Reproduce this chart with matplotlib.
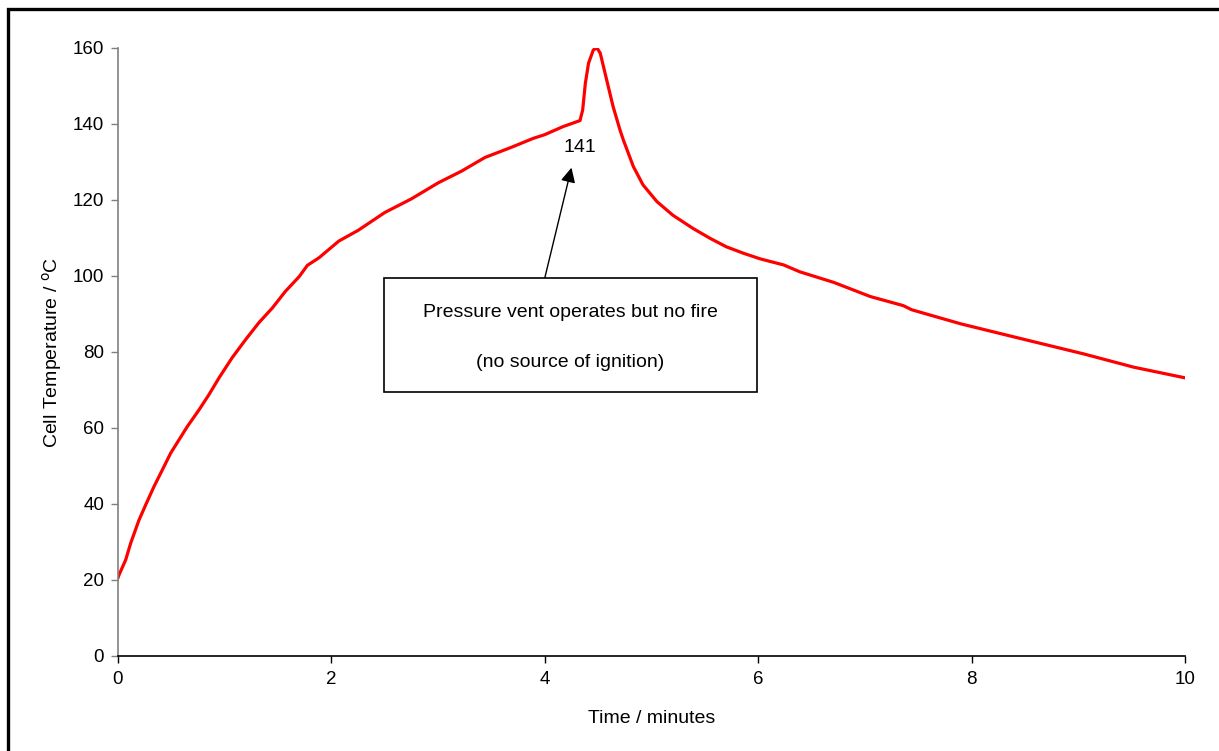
import matplotlib
matplotlib.use("Agg")
import matplotlib.pyplot as plt
from matplotlib.patches import Rectangle

plt.rcParams['font.family'] = ['Liberation Sans', 'DejaVu Sans']

# Data
time_min = [0.0, 0.009, 0.072, 0.119, 0.197, 0.26, 0.3375, 0.416, 0.494, 0.572,
            0.65, 0.76, 0.853, 0.947, 1.07, 1.197, 1.32, 1.447, 1.57, 1.697,
            1.775, 1.884, 2.07, 2.25, 2.5, 2.75, 3.0, 3.22, 3.44, 3.69, 3.89,
            4.0, 4.17, 4.33, 4.355, 4.38, 4.41, 4.455, 4.49, 4.52, 4.58, 4.64,
            4.705, 4.736, 4.83, 4.92, 5.05, 5.20, 5.39, 5.55, 5.70, 5.86, 6.02,
            6.24, 6.39, 6.71, 7.05, 7.36, 7.44, 7.9, 8.48, 9.05, 9.52, 10.0]
temp_c = [20.6, 21.3, 25.3, 29.7, 35.8, 39.8, 44.6, 49.0, 53.4, 56.9,
          60.4, 64.8, 68.8, 73.2, 78.5, 83.3, 87.7, 91.6, 96.0, 99.8,
          102.8, 104.8, 109.2, 112.0, 116.7, 120.3, 124.5, 127.6, 131.2, 133.9, 136.2,
          137.2, 139.3, 140.9, 143.7, 150.7, 156.0, 159.5, 160.0, 158.6, 151.6, 144.6,
          138.4, 135.8, 128.8, 124.0, 119.6, 116.0, 112.5, 109.9, 107.7, 106.0, 104.5,
          102.9, 101.1, 98.3, 94.6, 92.2, 91.1, 87.4, 83.4, 79.5, 76.0, 73.2]

x_ticks = [0, 2, 4, 6, 8, 10]
y_ticks = [0, 20, 40, 60, 80, 100, 120, 140, 160]

vent_temp = 141
vent_time = 4.33
box_lines = ["Pressure vent operates but no fire", "(no source of ignition)"]

FS = 14
fig = plt.figure(figsize=(12.19, 7.51), dpi=100)
ax = fig.add_axes([0.0968, 0.1265, 0.8753, 0.8096])

ax.plot(time_min, temp_c, color='#ff0000', lw=2.3, solid_joinstyle='round')

ax.set_xlim(0, 10)
ax.set_ylim(0, 160)
ax.set_xticks(x_ticks)
ax.set_yticks(y_ticks)
ax.tick_params(axis='both', labelsize=13.5, length=5, width=1, direction='out', pad=6)
ax.tick_params(axis='y', color='#808080', pad=5)
for s in ['top', 'right']:
    ax.spines[s].set_visible(False)
ax.spines['left'].set_color('#808080')
ax.spines['left'].set_linewidth(1.2)
ax.spines['bottom'].set_color('black')
ax.spines['bottom'].set_linewidth(1.2)

ax.set_xlabel('Time / minutes', fontsize=FS, labelpad=16)
ax.set_ylabel('Cell Temperature / $^{\\mathrm{o}}$C', fontsize=FS, labelpad=6)

# "141" label near the vent point
ax.text(vent_time, vent_temp - 7.3, str(vent_temp), fontsize=FS,
        ha='center', va='center')

# Arrow from box up to the label
ax.annotate('', xy=(4.25, 128.5), xytext=(4.0, 99.5),
            arrowprops=dict(arrowstyle='-|>', color='black', lw=1,
                            mutation_scale=22, shrinkA=0, shrinkB=0))

# Annotation box
bx0, bx1 = 2.49, 5.99
by0, by1 = 69.5, 99.5
ax.add_patch(Rectangle((bx0, by0), bx1 - bx0, by1 - by0, fill=True,
                       facecolor='white', edgecolor='black', lw=1.2, zorder=3))
ax.text((bx0 + bx1) / 2, 90.3, box_lines[0], fontsize=FS, ha='center',
        va='center', zorder=4)
ax.text((bx0 + bx1) / 2, 77.3, box_lines[1], fontsize=FS, ha='center',
        va='center', zorder=4)

# Outer frame of the figure
fig.patches.append(Rectangle((8 / 1219, -0.05), 1.1, 1 - 9 / 751 + 0.05,
                             transform=fig.transFigure, fill=False,
                             edgecolor='black', lw=2.4))

fig.savefig('out.png', dpi=100)
